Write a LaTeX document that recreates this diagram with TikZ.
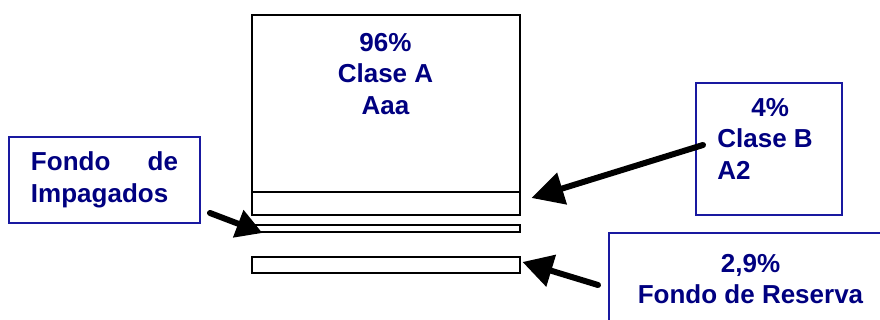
\documentclass[tikz,border=0pt]{standalone}
\usepackage{fontspec}
\setmainfont{Liberation Sans}
\usetikzlibrary{arrows.meta}
\definecolor{azultexto}{RGB}{0,0,128}
\definecolor{azulborde}{RGB}{25,25,160}
\newcommand{\tramo}[3]{\node[tramo, minimum height=#3] (#1) at (385.5,#2) {};}
\tikzset{
  tramo/.style={draw=black, line width=1pt, minimum width=134pt, inner sep=0pt, outer sep=0pt},
  caja/.style={draw=azulborde, line width=0.8pt, inner sep=0pt, outer sep=0pt,
    text=azultexto, font=\fontsize{13}{15.7}\selectfont\bfseries},
  rotulo/.style={inner sep=0pt, text=azultexto, font=\fontsize{13}{15.7}\selectfont\bfseries, align=center},
  flecha/.style={line width=3pt, line cap=round, -{Triangle[length=16pt,width=16pt]}}
}

\begin{document}
\begin{tikzpicture}[x=0.5pt,y=-0.5pt]
        \useasboundingbox (0,0) rectangle (880,320);
        \clip (0,0) rectangle (880,320);
        % tramos
        \node[tramo, minimum height=88.5pt] (claseA) at (385.5,103.5) {};
        \tramo{tramoB}{203.5}{11.5pt}
        \tramo{impagados}{228.5}{3.5pt}
        \tramo{reserva}{265}{8pt}
        % texto clase A
        \node[rotulo, anchor=north] (tA) at (385.5,33) {96\%\\Clase A\\Aaa};
        % cajas
        \node[caja, text width=73.5pt, minimum width=95.5pt, minimum height=43pt] (cajaFI) at (104.5,180) {Fondo\hfill de\\Impagados};
        \node[caja, minimum width=73pt, minimum height=66pt] (cajaB) at (769,149) {};
        \node[rotulo, anchor=north west, align=left] (tB) at (717,98) {\hspace*{17pt}4\%\\Clase B\\A2};
        \node[caja, align=center, minimum width=141.5pt, minimum height=46pt] (cajaFR) at (750.5,279) {2,9\%\\Fondo de Reserva};
        % flechas
        \draw[flecha, -{Triangle[length=13pt,width=14pt]}] ([shift={(10,-10)}]cajaFI.south east) -- ([shift={(11,1)}]impagados.south west);
        \draw[flecha] ([shift={(7,-4)}]cajaB.west) -- ([shift={(12,-5.5)}]tramoB.east);
        \draw[flecha, -{Triangle[length=15pt,width=16pt]}] ([shift={(-11,6)}]cajaFR.west) -- ([shift={(3,-3)}]reserva.east);
    \end{tikzpicture}
\end{document}
